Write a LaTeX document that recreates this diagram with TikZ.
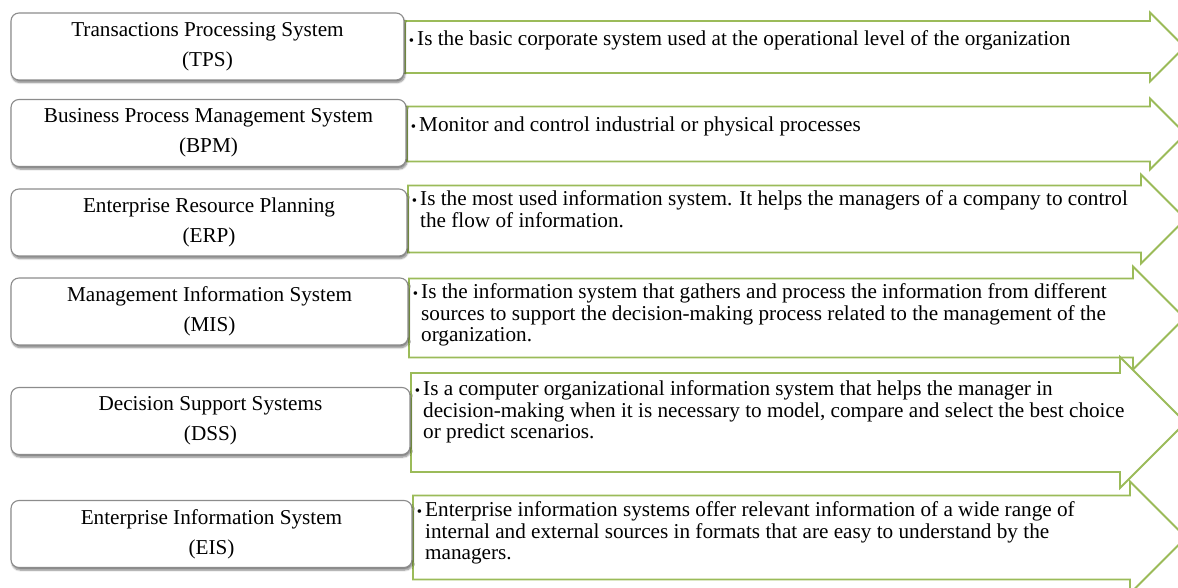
\documentclass[tikz,border=0pt]{standalone}
\usepackage{fontspec}
\setmainfont{Liberation Serif}
\usetikzlibrary{positioning,shadows.blur}
\definecolor{olgreen}{HTML}{9BBB59}
\definecolor{boxgray}{HTML}{8C8C8C}
\newcommand{\bul}{\llap{{\fontsize{15}{15}\selectfont\textbullet}\hspace{3pt}}}
\tikzset{
  sysbox/.style={draw=boxgray, line width=1.1pt, fill=white, rounded corners=8pt,
    minimum height=67pt, inner sep=0pt, align=center, font=\fontsize{21.2}{30}\selectfont,
    blur shadow={shadow xshift=1pt, shadow yshift=-2.5pt, shadow blur steps=6, shadow opacity=50}},
  infoarrow/.style={draw=olgreen, line width=1.8pt, fill=white, line join=miter},
  desc/.style={anchor=north west, inner sep=0pt, align=left, font=\fontsize{21.2}{21}\selectfont}
}

\begin{document}
\begin{tikzpicture}[x=1pt, y=-1pt]
\path[use as bounding box] (0,0) rectangle (1178,588);
\clip (0,0) rectangle (1178,588);

% arrows: body left / centre / body half height / head start / head half height
\foreach \l/\c/\b/\hx/\h in {405/47/26/1150/34.5, 407/134/27.5/1150/35.5, 408/219/33.5/1141/44.5,
                              409/318/39.5/1133/51.5, 411/422.5/49.5/1120/65.5, 413/537.5/42/1130/56}
  \draw[infoarrow] (\l,\c-\b) -- (\hx,\c-\b) -- (\hx,\c-\h) -- (\hx+\h,\c) -- (\hx,\c+\h)
                   -- (\hx,\c+\b) -- (\l,\c+\b) -- cycle;

% system boxes
\node[sysbox, minimum width=393pt] (tps) at (207.5,46.5) {Transactions Processing System\\(TPS)};
\node[sysbox, minimum width=395pt] (bpm) at (208.5,133) {Business Process Management System\\(BPM)};
\node[sysbox, minimum width=396pt] (erp) at (209,222.5) {Enterprise Resource Planning\\(ERP)};
\node[sysbox, minimum width=397pt] (mis) at (209.5,311.5) {Management Information System\\(MIS)};
\node[sysbox, minimum width=399pt] (dss) at (210.5,421) {Decision Support Systems\\(DSS)};
\node[sysbox, minimum width=401pt] (eis) at (211.5,534) {Enterprise Information System\\(EIS)};

% descriptions
\node[desc] (tpsd) at (417,21+9) {\strut\bul Is the basic corporate system used at the operational level of the organization};
\node[desc] (bpmd) at (419,107+10) {\strut\bul Monitor and control industrial or physical processes};
\node[desc] (erpd) at (420,185+5) {\strut\bul Is the most used information system. It helps the managers of a company to control\\
  the flow of information.};
\node[desc] (misd) at (421,278.5+5) {\strut\bul Is the information system that gathers and process the information from different\\
  sources to support the decision-making process related to the management of the\\
  organization.};
\node[desc] (dssd) at (423,373+7) {\strut\bul Is a computer organizational information system that helps the manager in\\
  decision-making when it is necessary to model, compare and select the best choice\\
  or predict scenarios.};
\node[desc] (eisd) at (425,495.5+6) {\strut\bul Enterprise information systems offer relevant information of a wide range of\\
  internal and external sources in formats that are easy to understand by the\\
  managers.};
\end{tikzpicture}
\end{document}
